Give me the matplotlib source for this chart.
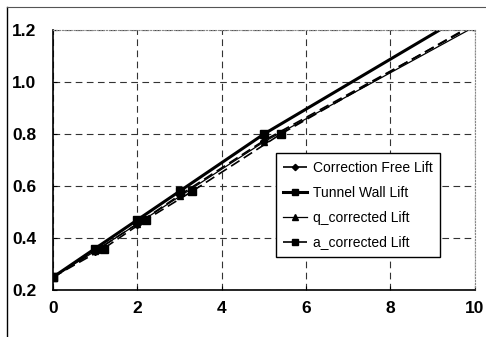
import matplotlib
matplotlib.use('Agg')
import matplotlib.pyplot as plt
from matplotlib.lines import Line2D

# angle of attack / lift values
alpha = [0, 1, 2, 3, 5, 10]
alpha_a = [0, 1.2, 2.2, 3.3, 5.4, 10.6]
lift_free = [0.25, 0.35, 0.455, 0.565, 0.775, 1.22]
lift_tunnel = [0.25, 0.36, 0.47, 0.58, 0.80, 1.28]
lift_q = [0.25, 0.35, 0.455, 0.56, 0.77, 1.213]
lift_a = [0.25, 0.36, 0.47, 0.58, 0.80, 1.28]

x_ticks = [0, 2, 4, 6, 8, 10]
y_ticks = [0.2, 0.4, 0.6, 0.8, 1.0, 1.2]

plt.rcParams['font.family'] = ['Liberation Sans', 'DejaVu Sans']

fig = plt.figure(figsize=(4.86, 3.37), dpi=100)
ax = fig.add_axes([0.109, 0.139, 0.868, 0.772])

ax.plot(alpha, lift_free, color='black', lw=1.2, ls=(0, (6, 3)), marker='D', ms=4,
        label='Correction Free Lift')
ax.plot(alpha, lift_tunnel, color='black', lw=2.2, ls='-', marker='s', ms=6,
        label='Tunnel Wall Lift')
ax.plot(alpha, lift_q, color='black', lw=0.9, ls='-', marker='^', ms=5,
        label='q_corrected Lift')
ax.plot(alpha_a, lift_a, color='black', lw=1.2, ls=(0, (6, 3)), marker='s', ms=6,
        label='a_corrected Lift')

ax.set_xlim(0, 10)
ax.set_ylim(0.2, 1.2)
ax.set_xticks(x_ticks)
ax.set_yticks(y_ticks)
ax.set_xticklabels([str(v) for v in x_ticks])
ax.set_yticklabels([f'{v:.1f}' for v in y_ticks])
ax.tick_params(axis='both', direction='in', length=3, width=0.8, labelsize=12.5)
ax.tick_params(axis='y', pad=12)
ax.tick_params(axis='x', pad=8)
for lab in ax.get_xticklabels() + ax.get_yticklabels():
    lab.set_fontweight('bold')

ax.grid(True, color='#333333', lw=0.8, ls=(0, (6, 4)))
ax.spines['left'].set_linewidth(1.2)
ax.spines['bottom'].set_linewidth(1.2)
for s in ('top', 'right'):
    ax.spines[s].set_color('#888888')
    ax.spines[s].set_linestyle(':')
    ax.spines[s].set_linewidth(0.8)

leg = ax.legend(loc='lower left', bbox_to_anchor=(0.528, 0.127), fontsize=10,
                frameon=True, fancybox=False, edgecolor='black', framealpha=1,
                handlelength=1.7, handletextpad=0.4, labelspacing=0.78,
                borderpad=0.55, borderaxespad=0, markerscale=0.8)
leg.get_frame().set_linewidth(1.0)

# border of the chart area (left and top edges visible)
fig.add_artist(Line2D([7 / 486, 7 / 486], [0, 1 - 7 / 337], color='black', lw=1.0,
                      transform=fig.transFigure))
fig.add_artist(Line2D([7 / 486, 1], [1 - 7 / 337, 1 - 7 / 337], color='#555555', lw=0.8,
                      transform=fig.transFigure))

fig.savefig('out.png', dpi=100)
plt.close(fig)
